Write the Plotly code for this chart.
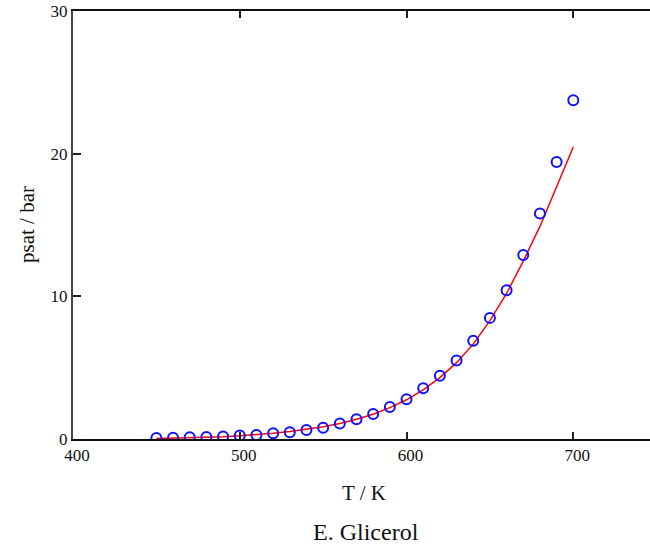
import plotly.graph_objects as go

# Glycerol vapour pressure: experimental points and model curve
T_exp = [450, 460, 470, 480, 490, 500, 510, 520, 530, 540, 550, 560, 570,
         580, 590, 600, 610, 620, 630, 640, 650, 660, 670, 680, 690, 700]
p_exp = [0.07, 0.08, 0.12, 0.14, 0.17, 0.24, 0.28, 0.40, 0.47, 0.63, 0.79,
         1.09, 1.38, 1.75, 2.24, 2.78, 3.55, 4.43, 5.51, 6.88, 8.49, 10.43,
         12.89, 15.81, 19.42, 23.74]

T_model = [450, 460, 470, 480, 490, 500, 510, 520, 530, 540, 550, 560, 570,
           580, 590, 600, 610, 620, 630, 640, 650, 660, 670, 680, 690, 700]
p_model = [0.03, 0.05, 0.08, 0.11, 0.16, 0.22, 0.30, 0.40, 0.52, 0.67, 0.86,
           1.09, 1.38, 1.74, 2.20, 2.75, 3.45, 4.30, 5.35, 6.65, 8.30, 10.20,
           12.47, 14.90, 17.70, 20.47]

x_ticks = [400, 500, 600, 700]
y_ticks = [0, 10, 20, 30]

serif = "Liberation Serif, Times New Roman, serif"
ink = "#111"

fig = go.Figure()
fig.add_trace(go.Scatter(
    x=T_model, y=p_model, mode="lines",
    line=dict(color="#ff0000", width=1.5),
    showlegend=False,
))
fig.add_trace(go.Scatter(
    x=T_exp, y=p_exp, mode="markers",
    marker=dict(symbol="circle-open", size=10, color="#1010ff",
                line=dict(width=2, color="#1010ff")),
    showlegend=False,
))

fig.update_layout(
    width=650, height=546,
    margin=dict(l=73, r=0, t=11, b=107),
    paper_bgcolor="white", plot_bgcolor="white",
    font=dict(family=serif, size=17, color=ink),
    xaxis=dict(
        range=[400, 746], tickvals=x_ticks, ticktext=[str(v) for v in x_ticks],
        ticks="inside", ticklen=7, tickwidth=1.5, tickcolor="#222",
        showline=True, linecolor="#111", linewidth=1.5, mirror="ticks",
        showgrid=False, zeroline=False,
        tickfont=dict(family=serif, size=17, color=ink),
        ticklabelshift=4,
    ),
    yaxis=dict(
        range=[0, 30], tickvals=y_ticks, ticktext=[str(v) for v in y_ticks],
        ticks="inside", ticklen=8, tickwidth=1.5, tickcolor="#222",
        showline=True, linecolor="#444", linewidth=2,
        showgrid=False, zeroline=False,
        tickfont=dict(family=serif, size=17, color=ink),
        ticklabelstandoff=0,
    ),
    annotations=[
        dict(text="T / K", xref="paper", yref="paper", x=0.5, y=0,
             xanchor="center", yanchor="middle", yshift=-54, xshift=2,
             showarrow=False, font=dict(family=serif, size=21, color=ink)),
        dict(text="E. Glicerol", xref="paper", yref="paper", x=0.5, y=0,
             xanchor="center", yanchor="middle", yshift=-93, xshift=4,
             showarrow=False, font=dict(family=serif, size=24, color=ink)),
        dict(text="psat / bar", xref="paper", yref="paper", x=0, y=0.5,
             xanchor="center", yanchor="middle", xshift=-46, textangle=-90,
             showarrow=False, font=dict(family=serif, size=21, color=ink)),
    ],
)

fig.write_html("out.html")
